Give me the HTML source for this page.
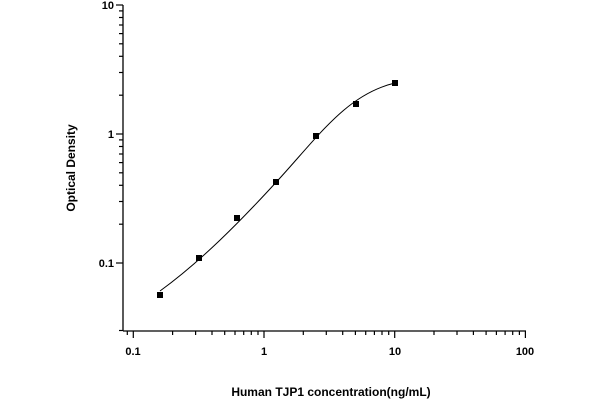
<!DOCTYPE html>
<html><head><style>body{margin:0;background:#fff}</style></head><body>
<svg width="600" height="400" xmlns="http://www.w3.org/2000/svg" font-family="Liberation Sans, Arial, sans-serif" font-weight="bold">
<rect width="600" height="400" fill="#fff"/>
<g stroke="#000" stroke-width="1.3" fill="none">
<line x1="123" y1="5" x2="123" y2="331"/>
<line x1="123" y1="331" x2="526" y2="331"/>
</g>
<g stroke="#000" stroke-width="1.2">
<line x1="123" y1="5" x2="116" y2="5"/>
<line x1="123" y1="134" x2="116" y2="134"/>
<line x1="123" y1="263" x2="116" y2="263"/>
<line x1="123" y1="330.5" x2="119" y2="330.5"/>
<line x1="123" y1="224.2" x2="119" y2="224.2"/>
<line x1="123" y1="201.5" x2="119" y2="201.5"/>
<line x1="123" y1="185.3" x2="119" y2="185.3"/>
<line x1="123" y1="172.8" x2="119" y2="172.8"/>
<line x1="123" y1="162.6" x2="119" y2="162.6"/>
<line x1="123" y1="154" x2="119" y2="154"/>
<line x1="123" y1="146.5" x2="119" y2="146.5"/>
<line x1="123" y1="139.9" x2="119" y2="139.9"/>
<line x1="123" y1="95.2" x2="119" y2="95.2"/>
<line x1="123" y1="72.5" x2="119" y2="72.5"/>
<line x1="123" y1="56.3" x2="119" y2="56.3"/>
<line x1="123" y1="43.8" x2="119" y2="43.8"/>
<line x1="123" y1="33.6" x2="119" y2="33.6"/>
<line x1="123" y1="25" x2="119" y2="25"/>
<line x1="123" y1="17.5" x2="119" y2="17.5"/>
<line x1="123" y1="10.9" x2="119" y2="10.9"/>

<line x1="127.3" y1="331" x2="127.3" y2="335"/>
<line x1="133.3" y1="331" x2="133.3" y2="338"/>
<line x1="264" y1="331" x2="264" y2="338"/>
<line x1="394.7" y1="331" x2="394.7" y2="338"/>
<line x1="525.4" y1="331" x2="525.4" y2="338"/>
<line x1="172.6" y1="331" x2="172.6" y2="335"/>
<line x1="195.6" y1="331" x2="195.6" y2="335"/>
<line x1="212" y1="331" x2="212" y2="335"/>
<line x1="224.7" y1="331" x2="224.7" y2="335"/>
<line x1="235" y1="331" x2="235" y2="335"/>
<line x1="243.7" y1="331" x2="243.7" y2="335"/>
<line x1="251.3" y1="331" x2="251.3" y2="335"/>
<line x1="258" y1="331" x2="258" y2="335"/>
<line x1="303.3" y1="331" x2="303.3" y2="335"/>
<line x1="326.3" y1="331" x2="326.3" y2="335"/>
<line x1="342.7" y1="331" x2="342.7" y2="335"/>
<line x1="355.4" y1="331" x2="355.4" y2="335"/>
<line x1="365.7" y1="331" x2="365.7" y2="335"/>
<line x1="374.4" y1="331" x2="374.4" y2="335"/>
<line x1="382" y1="331" x2="382" y2="335"/>
<line x1="388.7" y1="331" x2="388.7" y2="335"/>
<line x1="434" y1="331" x2="434" y2="335"/>
<line x1="457" y1="331" x2="457" y2="335"/>
<line x1="473.4" y1="331" x2="473.4" y2="335"/>
<line x1="486.1" y1="331" x2="486.1" y2="335"/>
<line x1="496.4" y1="331" x2="496.4" y2="335"/>
<line x1="505.1" y1="331" x2="505.1" y2="335"/>
<line x1="512.7" y1="331" x2="512.7" y2="335"/>
<line x1="519.4" y1="331" x2="519.4" y2="335"/>
</g>
<g font-size="11" text-anchor="end">
<text x="114" y="9">10</text>
<text x="114" y="138">1</text>
<text x="114" y="267">0.1</text>
</g>
<g font-size="11" text-anchor="middle">
<text x="133" y="355">0.1</text>
<text x="264" y="355">1</text>
<text x="395" y="355">10</text>
<text x="525" y="355">100</text>
</g>
<text x="331" y="396" font-size="12" text-anchor="middle">Human TJP1 concentration(ng/mL)</text>
<text transform="translate(75,168) rotate(-90)" font-size="12" text-anchor="middle">Optical Density</text>
<path d="M160,291 C200,262 240,222 280,178 C320,134 348,94 395,83" stroke="#000" stroke-width="1" fill="none"/>
<g fill="#000">
<rect x="157" y="292" width="6" height="6"/>
<rect x="196" y="255" width="6" height="6"/>
<rect x="234" y="215" width="6" height="6"/>
<rect x="273" y="179" width="6" height="6"/>
<rect x="313" y="133" width="6" height="6"/>
<rect x="353" y="101" width="6" height="6"/>
<rect x="392" y="80" width="6" height="6"/>
</g>
</svg>
</body></html>
